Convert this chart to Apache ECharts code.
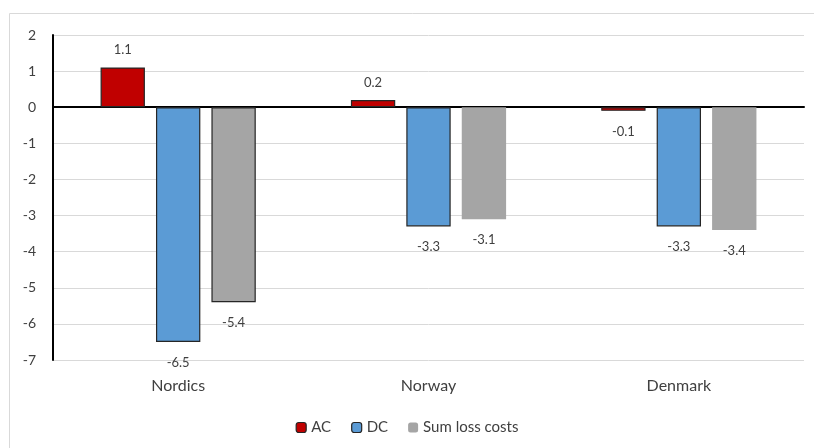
<!DOCTYPE html>
<html>
<head>
<meta charset="utf-8">
<script src="https://cdn.jsdelivr.net/npm/echarts@6/dist/echarts.min.js"></script>
<style>
  html, body { margin: 0; padding: 0; background: #fff; }
  #chart { width: 814px; height: 448px; }
</style>
</head>
<body>
<div id="chart"></div>
<script>
// Loss cost differences by region
const categories = ['Nordics', 'Norway', 'Denmark'];
const acValues = [1.1, 0.2, -0.1];
const dcValues = [-6.5, -3.3, -3.3];
const sumValues = [-5.4, -3.1, -3.4];
const yTicks = { min: -7, max: 2, interval: 1 };

const FONT = 'Lato, "Open Sans", sans-serif';
const TEXT = '#404040';

const chart = echarts.init(document.getElementById('chart'));

function labelFor(v) {
  return {
    show: true,
    position: v >= 0 ? 'top' : 'bottom',
    distance: v >= 0 ? 11 : 14,
    color: TEXT,
    fontFamily: FONT,
    fontSize: 13,
    formatter: p => p.value.toFixed(1)
  };
}

function barData(values, bordered) {
  return values.map((v, i) => ({
    value: v,
    label: labelFor(v),
    itemStyle: bordered[i]
      ? { borderColor: '#262626', borderWidth: 1.2 }
      : { borderWidth: 0 }
  }));
}

const frame = {
  type: 'rect',
  shape: { x: 9.5, y: 13.5, width: 830, height: 460 },
  style: { fill: 'none', stroke: '#d9d9d9', lineWidth: 1 },
  silent: true,
  z: -1
};

chart.setOption({
  animation: false,
  grid: { left: 53, right: 10, top: 35, bottom: 88, containLabel: false },
  legend: {
    bottom: 8,
    left: 'center',
    itemWidth: 10,
    itemHeight: 10,
    itemGap: 20,
    textStyle: { color: TEXT, fontFamily: FONT, fontSize: 15 },
    data: [
      { name: 'AC', itemStyle: { borderColor: '#262626', borderWidth: 1.2 } },
      { name: 'DC', itemStyle: { borderColor: '#262626', borderWidth: 1.2 } },
      { name: 'Sum loss costs', itemStyle: { borderWidth: 0 } }
    ]
  },
  xAxis: {
    type: 'category',
    data: categories,
    axisLine: { onZero: true, lineStyle: { color: '#000', width: 2 } },
    axisTick: { show: false },
    axisLabel: { show: false }
  },
  yAxis: {
    type: 'value',
    min: yTicks.min,
    max: yTicks.max,
    interval: yTicks.interval,
    axisLine: { show: true, lineStyle: { color: '#000', width: 2 } },
    axisTick: { show: false },
    axisLabel: { color: TEXT, fontFamily: FONT, fontSize: 14, margin: 17 },
    splitLine: { lineStyle: { color: '#d9d9d9', width: 1 } }
  },
  series: [
    {
      name: 'AC', type: 'bar',
      itemStyle: { color: '#c00000' },
      barGap: '25%', barCategoryGap: '38%',
      data: barData(acValues, [true, true, true])
    },
    {
      name: 'DC', type: 'bar',
      itemStyle: { color: '#5b9bd5' },
      data: barData(dcValues, [true, true, true])
    },
    {
      name: 'Sum loss costs', type: 'bar',
      itemStyle: { color: '#a5a5a5' },
      data: barData(sumValues, [true, false, false])
    }
  ]
});

// Category names sit beneath the plot area, not at the zero line
chart.setOption({
  graphic: [frame].concat(categories.map(c => {
    const pt = chart.convertToPixel({ gridIndex: 0 }, [c, yTicks.min]);
    return {
      type: 'text',
      x: pt[0], y: pt[1] + 26,
      style: { text: c, fill: TEXT, font: '16px ' + FONT, align: 'center', verticalAlign: 'middle' },
      silent: true
    };
  }))
});
</script>
</body>
</html>
